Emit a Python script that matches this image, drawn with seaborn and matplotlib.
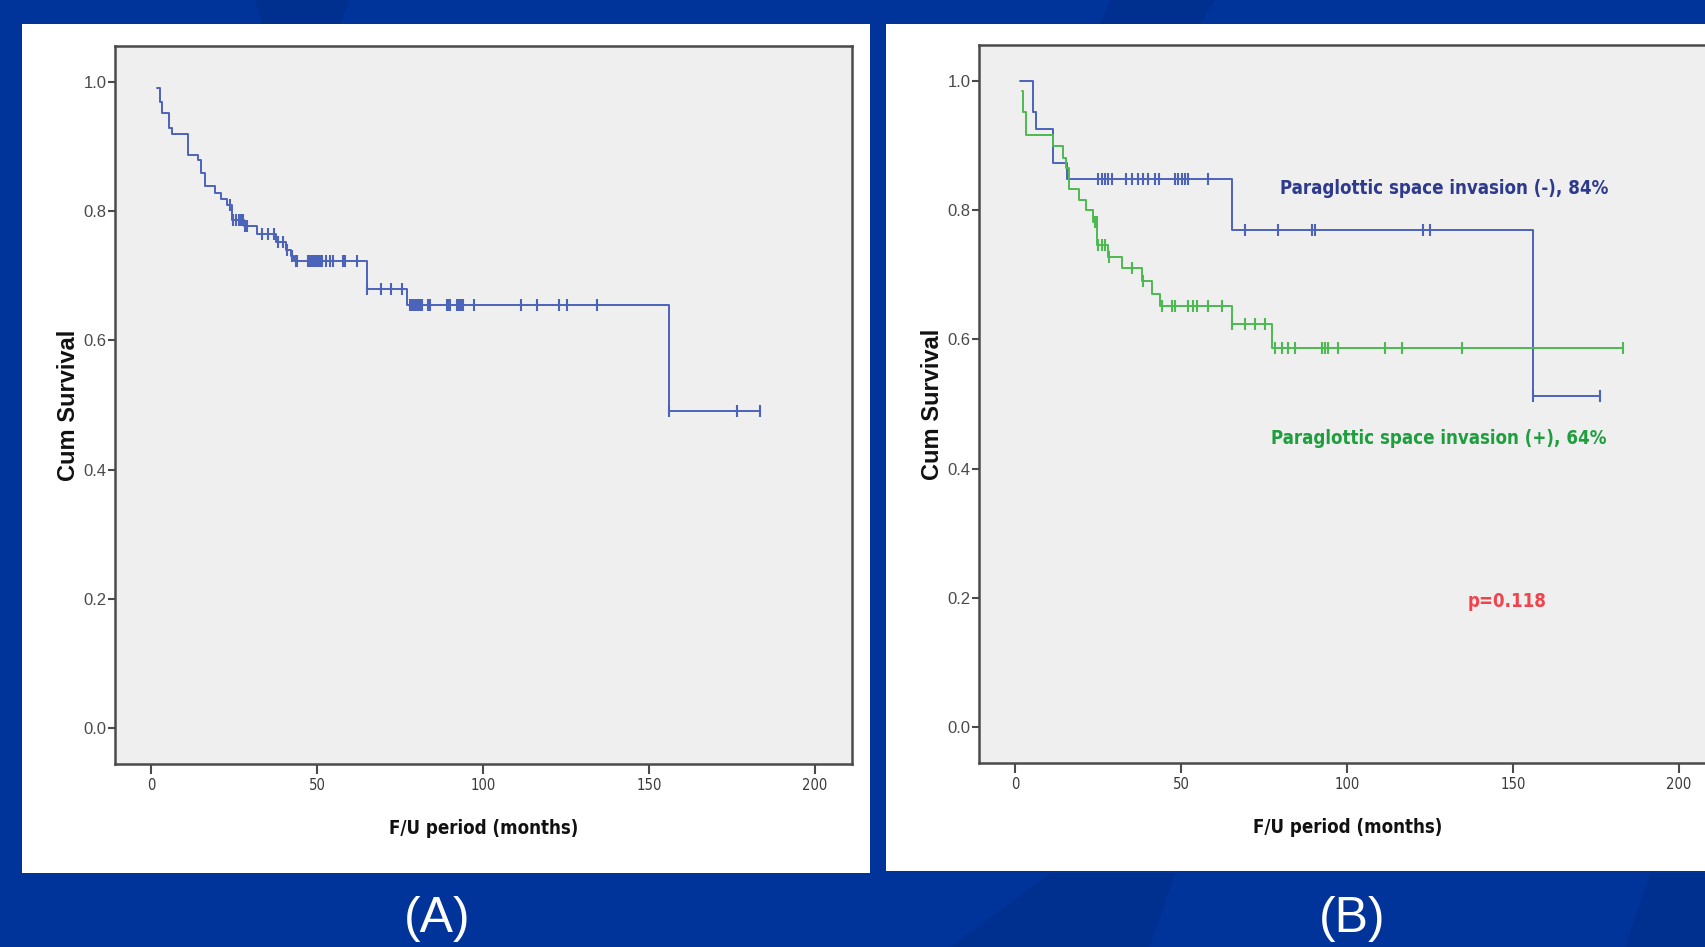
import numpy as np
import pandas as pd
import matplotlib
matplotlib.use("Agg")
import matplotlib.pyplot as plt
from matplotlib import font_manager
from matplotlib.patches import Rectangle, Polygon
import seaborn as sns

# ---------------- data ----------------
# Panel A: overall Kaplan-Meier curve (step start times, survival levels)
a_step_t = [1.8, 2.6, 3.2, 5.4, 6.2, 11.2, 14.2, 15.0, 16.2, 19.2, 21.0, 23.0,
            24.5, 27.9, 32.0, 37.5, 40.5, 42.0, 43.0, 64.9, 77.0, 156.2]
a_step_s = [0.990, 0.969, 0.951, 0.928, 0.919, 0.887, 0.879, 0.858, 0.838, 0.828,
            0.819, 0.809, 0.786, 0.776, 0.764, 0.752, 0.740, 0.731, 0.722, 0.680,
            0.654, 0.490]
a_end = 183.5
a_censor_t = [23.8, 24.7, 25.6, 26.4, 27.1, 27.7, 28.3, 28.8, 33.3, 35.3, 37.0,
              38.3, 39.8, 41.0, 42.4, 43.6, 44.0, 47.4, 47.9, 48.4, 48.9, 49.4,
              49.9, 50.4, 50.9, 51.4, 52.7, 53.9, 54.7, 57.9, 58.4, 61.9, 64.9,
              69.4, 72.4, 75.5, 78.0, 78.5, 79.0, 79.5, 80.0, 80.5, 81.0, 81.5,
              83.5, 84.0, 89.0, 89.6, 90.1, 92.1, 92.6, 93.1, 93.6, 94.1, 97.3,
              111.4, 116.2, 123.0, 125.2, 134.3, 156.2, 176.5, 183.5]

# Panel B: paraglottic space invasion (-)
neg_step_t = [1.5, 5.3, 6.3, 11.3, 15.5, 65.3, 156.2]
neg_step_s = [1.000, 0.951, 0.925, 0.872, 0.848, 0.769, 0.513]
neg_end = 176.3
neg_censor_t = [25.1, 26.1, 27.1, 28.1, 29.1, 33.4, 35.1, 37.1, 38.6, 40.1, 42.2,
                43.2, 48.2, 49.2, 50.2, 51.2, 52.2, 58.2, 69.3, 79.3, 89.4, 90.4,
                123.0, 125.0, 156.2, 176.3]

# Panel B: paraglottic space invasion (+)
pos_step_t = [2.0, 2.5, 3.2, 11.3, 14.3, 15.3, 16.3, 19.2, 21.2, 23.5, 24.8,
              28.0, 32.1, 38.2, 41.2, 43.5, 65.3, 77.3]
pos_step_s = [0.984, 0.951, 0.916, 0.899, 0.881, 0.865, 0.832, 0.815, 0.800,
              0.781, 0.746, 0.728, 0.710, 0.690, 0.670, 0.652, 0.623, 0.586]
pos_end = 183.3
pos_censor_t = [24.1, 24.6, 25.1, 26.1, 27.1, 28.4, 35.1, 38.5, 44.2, 47.2, 48.2,
                52.2, 53.7, 54.7, 58.2, 62.3, 65.3, 69.3, 72.3, 75.3, 78.3, 80.3,
                82.3, 84.3, 92.4, 93.4, 94.4, 97.4, 111.5, 116.5, 134.6, 183.3]

x_ticks = [0, 50, 100, 150, 200]
y_ticks = [0.0, 0.2, 0.4, 0.6, 0.8, 1.0]
x_label = "F/U period (months)"
y_label = "Cum Survival"
label_neg = "Paraglottic space invasion (-), 84%"
label_pos = "Paraglottic space invasion (+), 64%"
p_text = "p=0.118"
panel_labels = ["(A)", "(B)"]

# ---------------- fonts ----------------
sns.set_theme(style="white")
REG = ["Liberation Sans", "DejaVu Sans"]
plt.rcParams["font.family"] = REG

names = {f.name for f in font_manager.fontManager.ttflist}
cond_dejavu = any(f.name == "DejaVu Sans" and "condensed" in str(f.stretch)
                  for f in font_manager.fontManager.ttflist)
if "Liberation Sans Narrow" in names:
    NARROW = dict(fontfamily=["Liberation Sans Narrow", "DejaVu Sans"])
    NSCALE = 0.93
elif cond_dejavu:
    NARROW = dict(fontfamily=["DejaVu Sans"], fontstretch="condensed")
    NSCALE = 0.79
else:
    NARROW = dict(fontfamily=REG)
    NSCALE = 0.76

BG = "#00349B"
FACE = "#EFEFEF"
SPINE = "#4a4a4a"
BLUE = "#4C63BA"
GREEN = "#4CBA50"

W, H = 1706, 947
fig = plt.figure(figsize=(W / 100, H / 100), dpi=100, facecolor=BG)

# subtle darker shapes in slide background
for pts in [
    [(255, 0), (350, 0), (340, 24), (262, 24)],
    [(1110, 0), (1215, 0), (1200, 24), (1100, 24)],
    [(1050, 873), (1175, 873), (1150, 947), (950, 947)],
    [(1650, 873), (1706, 873), (1706, 947), (1625, 947)],
]:
    fig.patches.append(Polygon([(x / W, 1 - y / H) for x, y in pts], closed=True,
                               transform=fig.transFigure, facecolor="#00308F",
                               edgecolor="none", zorder=-3))

# white panels
fig.patches.append(Rectangle((22 / W, 1 - 873 / H), 848 / W, 849 / H,
                             transform=fig.transFigure, facecolor="white",
                             edgecolor="none", zorder=-2))
fig.patches.append(Rectangle((886 / W, 1 - 871 / H), 830 / W, 847 / H,
                             transform=fig.transFigure, facecolor="white",
                             edgecolor="none", zorder=-2))

axA = fig.add_axes([115 / W, 1 - 764 / H, 737 / W, 718 / H])
axB = fig.add_axes([979 / W, 1 - 763 / H, 737 / W, 718 / H])


def step_df(ts, ss, end):
    return pd.DataFrame({"t": list(ts) + [end], "s": list(ss) + [ss[-1]]})


def censor_df(ct, ts, ss):
    idx = np.searchsorted(np.array(ts), np.array(ct) + 1e-9, side="right") - 1
    return pd.DataFrame({"t": ct, "s": np.array(ss)[idx]})


def km(ax, ts, ss, end, ct, color):
    sns.lineplot(data=step_df(ts, ss, end), x="t", y="s", ax=ax, color=color,
                 drawstyle="steps-post", estimator=None, sort=False, lw=1.4,
                 zorder=3)
    sns.scatterplot(data=censor_df(ct, ts, ss), x="t", y="s", ax=ax, marker="|",
                    s=80, linewidth=1.5, color=color, zorder=4)


km(axA, a_step_t, a_step_s, a_end, a_censor_t, BLUE)
km(axB, neg_step_t, neg_step_s, neg_end, neg_censor_t, BLUE)
km(axB, pos_step_t, pos_step_s, pos_end, pos_censor_t, GREEN)

for ax in (axA, axB):
    ax.set_facecolor(FACE)
    ax.set_xlim(-10.9, 211.2)
    ax.set_ylim(-0.055, 1.055)
    ax.set_xticks(x_ticks)
    ax.set_yticks(y_ticks)
    ax.set_xticklabels([str(v) for v in x_ticks], fontsize=13.5 * NSCALE,
                       color="#3a3a3a", **NARROW)
    ax.set_yticklabels([f"{v:.1f}" for v in y_ticks], fontfamily=REG, fontsize=12,
                       color="#4a4a4a")
    ax.tick_params(axis="x", length=7, width=1.5, color=SPINE, pad=3, bottom=True)
    ax.tick_params(axis="y", length=5, width=1.5, color=SPINE, pad=1, left=True)
    for sp in ax.spines.values():
        sp.set_color(SPINE)
        sp.set_linewidth(1.8)
        sp.set_visible(True)
    ax.set_xlabel(x_label, fontsize=17 * NSCALE, fontweight="bold",
                  color="#111111", **NARROW)
    ax.set_ylabel(y_label, fontfamily=REG, fontsize=17, fontweight="bold",
                  color="#111111")
    ax.xaxis.set_label_coords(0.5, -0.0905)
    ax.xaxis.label.set_va("center")
    ax.yaxis.set_label_coords(-0.063, 0.5)
    ax.yaxis.label.set_va("center")
    ax.grid(False)

axB.text(129.2, 0.833, label_neg, ha="center", va="center", fontsize=17 * NSCALE,
         fontweight="bold", color="#2E3A8C", zorder=5, **NARROW)
axB.text(127.6, 0.446, label_pos, ha="center", va="center", fontsize=17 * NSCALE,
         fontweight="bold", color="#1E9E3E", zorder=5, **NARROW)
axB.text(148.3, 0.194, p_text, ha="center", va="center", fontsize=17 * NSCALE,
         fontweight="bold", color="#F0434C", zorder=5, **NARROW)

fig.text(437 / W, 1 - 919 / H, panel_labels[0], ha="center", va="center",
         fontsize=36, color="white", fontweight="light", fontfamily=REG)
fig.text(1352 / W, 1 - 919 / H, panel_labels[1], ha="center", va="center",
         fontsize=36, color="white", fontweight="light", fontfamily=REG)

fig.savefig("out.png", dpi=100, facecolor=BG)
